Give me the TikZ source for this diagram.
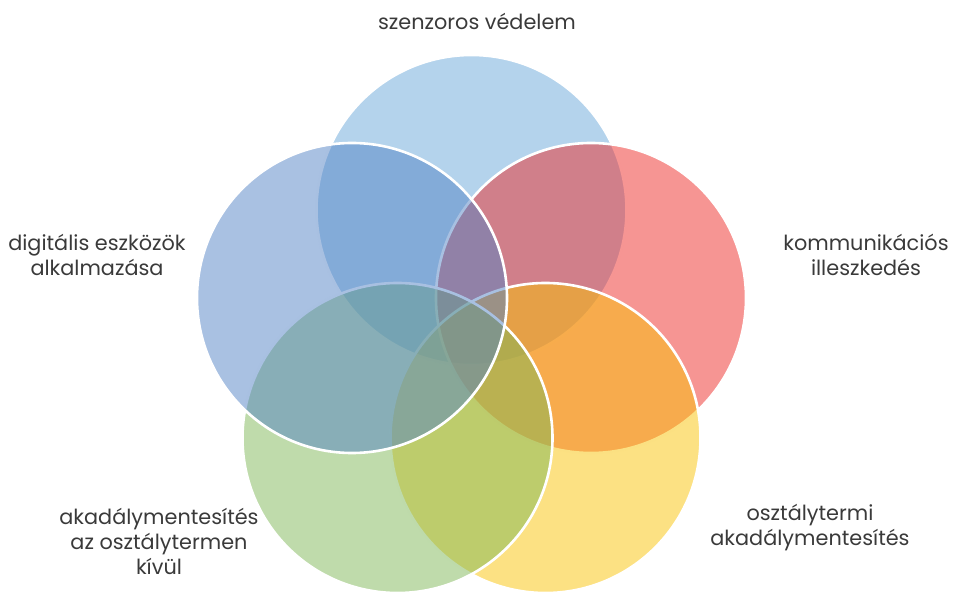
\documentclass[tikz,border=0pt]{standalone}
\usepackage{fontspec}
\setmainfont{Poppins}
\definecolor{cTop}{HTML}{69A7D9}
\definecolor{cRed}{HTML}{EE2C28}
\definecolor{cYel}{HTML}{F9C307}
\definecolor{cGrn}{HTML}{7FB757}
\definecolor{cBlu}{HTML}{5383C5}
\definecolor{txt}{HTML}{3A3A3A}
\begin{document}
\begin{tikzpicture}[x=1pt,y=-1pt,
  venn/.style={circle, draw=white, line width=2.6pt, fill opacity=0.5, draw opacity=1,
    minimum size=310pt, inner sep=0pt, outer sep=0pt},
  lbl/.style={align=center, text=txt, inner sep=0pt,
    font=\fontsize{20.8}{25}\selectfont}]
\useasboundingbox (0,0) rectangle (954,593);
\node[venn, fill=cTop] (c1) at (471.5,210) {};
\node[venn, fill=cRed] (c2) at (591,298) {};
\node[venn, fill=cYel] (c3) at (545.5,438) {};
\node[venn, fill=cGrn] (c4) at (397.5,438) {};
\node[venn, fill=cBlu] (c5) at (352,298) {};
\node[lbl] (t1) at (477,21) {szenzoros védelem};
\node[lbl] (t2) at (866,255) {kommunikációs\\illeszkedés};
\node[lbl] (t3) at (810,528) {osztálytermi\\akadálymentesítés};
\node[lbl] (t4) at (159,541) {akadálymentesítés\\az osztálytermen\\kívül};
\node[lbl] (t5) at (97,255) {digitális eszközök\\alkalmazása};
\end{tikzpicture}
\end{document}
